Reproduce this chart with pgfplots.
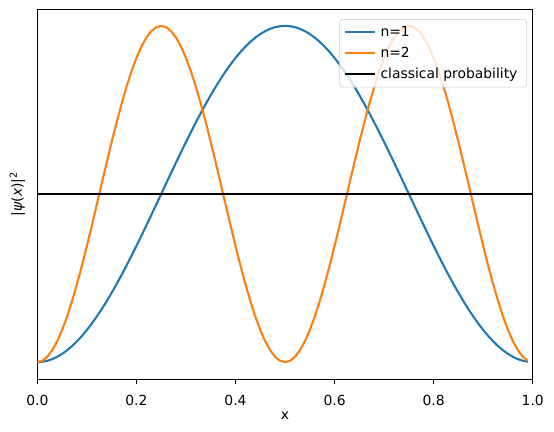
\documentclass[border=0pt]{standalone}
\usepackage{fontspec}
\setmainfont{DejaVu Sans}
\usepackage{pgfplots}
\usepackage{pgfplotstable}
\pgfplotsset{compat=1.18}
\definecolor{tabblue}{HTML}{1F77B4}
\definecolor{taborange}{HTML}{FF7F0E}
\pgfplotstableread{
x y1 y2
0.00 0 0
0.01 0.00197 0.00789
0.02 0.00789 0.03142
0.03 0.01771 0.07022
0.04 0.03142 0.12369
0.05 0.04894 0.19098
0.06 0.07022 0.27103
0.07 0.09517 0.36258
0.08 0.12369 0.46417
0.09 0.15567 0.57422
0.10 0.19098 0.69098
0.11 0.22949 0.81262
0.12 0.27103 0.93721
0.13 0.31545 1.06279
0.14 0.36258 1.18738
0.15 0.41221 1.30902
0.16 0.46417 1.42578
0.17 0.51825 1.53583
0.18 0.57422 1.63742
0.19 0.63188 1.72897
0.20 0.69098 1.80902
0.21 0.75131 1.87631
0.22 0.81262 1.92978
0.23 0.87467 1.96858
0.24 0.93721 1.99211
0.25 1 2
0.26 1.06279 1.99211
0.27 1.12533 1.96858
0.28 1.18738 1.92978
0.29 1.24869 1.87631
0.30 1.30902 1.80902
0.31 1.36812 1.72897
0.32 1.42578 1.63742
0.33 1.48175 1.53583
0.34 1.53583 1.42578
0.35 1.58779 1.30902
0.36 1.63742 1.18738
0.37 1.68455 1.06279
0.38 1.72897 0.93721
0.39 1.77051 0.81262
0.40 1.80902 0.69098
0.41 1.84433 0.57422
0.42 1.87631 0.46417
0.43 1.90483 0.36258
0.44 1.92978 0.27103
0.45 1.95106 0.19098
0.46 1.96858 0.12369
0.47 1.98229 0.07022
0.48 1.99211 0.03142
0.49 1.99803 0.00789
0.50 2 0
0.51 1.99803 0.00789
0.52 1.99211 0.03142
0.53 1.98229 0.07022
0.54 1.96858 0.12369
0.55 1.95106 0.19098
0.56 1.92978 0.27103
0.57 1.90483 0.36258
0.58 1.87631 0.46417
0.59 1.84433 0.57422
0.60 1.80902 0.69098
0.61 1.77051 0.81262
0.62 1.72897 0.93721
0.63 1.68455 1.06279
0.64 1.63742 1.18738
0.65 1.58779 1.30902
0.66 1.53583 1.42578
0.67 1.48175 1.53583
0.68 1.42578 1.63742
0.69 1.36812 1.72897
0.70 1.30902 1.80902
0.71 1.24869 1.87631
0.72 1.18738 1.92978
0.73 1.12533 1.96858
0.74 1.06279 1.99211
0.75 1 2
0.76 0.93721 1.99211
0.77 0.87467 1.96858
0.78 0.81262 1.92978
0.79 0.75131 1.87631
0.80 0.69098 1.80902
0.81 0.63188 1.72897
0.82 0.57422 1.63742
0.83 0.51825 1.53583
0.84 0.46417 1.42578
0.85 0.41221 1.30902
0.86 0.36258 1.18738
0.87 0.31545 1.06279
0.88 0.27103 0.93721
0.89 0.22949 0.81262
0.90 0.19098 0.69098
0.91 0.15567 0.57422
0.92 0.12369 0.46417
0.93 0.09517 0.36258
0.94 0.07022 0.27103
0.95 0.04894 0.19098
0.96 0.03142 0.12369
0.97 0.01771 0.07022
0.98 0.00789 0.03142
0.99 0.00197 0.00789
}\datatable
\begin{document}
\begin{tikzpicture}
\begin{axis}[
  at={(0,0)}, anchor=south west,
  scale only axis,
  width=356.8pt, height=266.4pt,
  xmin=0, xmax=1, ymin=-0.1, ymax=2.1,
  xtick={0,0.2,0.4,0.6,0.8,1.0},
  xticklabels={0.0,0.2,0.4,0.6,0.8,1.0},
  ytick=\empty,
  tick align=outside,
  xtick pos=bottom,
  major tick length=3.5pt,
  tick style={black, line width=0.6pt},
  axis line style={line width=0.6pt},
  font=\fontsize{10}{12}\selectfont,
  /pgf/number format/assume math mode=true,
  xticklabel style={anchor=north, inner sep=0pt, yshift=-7.9pt},
  xlabel={x},
  xlabel style={at={(axis description cs:0.5,-0.1)}, anchor=center, inner sep=0pt},
  ylabel={|{\itshape ψ}({\itshape x})|\textsuperscript{2}},
  ylabel style={at={(axis description cs:-0.024,0.5)}, anchor=south, inner sep=0pt},
  legend cell align=left,
  legend style={at={(axis description cs:0.988,0.973)}, anchor=north east,
    draw=black!20, rounded corners=2pt, fill=white, fill opacity=0.8, text opacity=1,
    font=\fontsize{10}{12}\selectfont, row sep=2pt, inner sep=3pt,
    nodes={inner xsep=3.6pt, inner ysep=2pt, text depth=0.15em}},
  legend image code/.code={\draw[#1, line width=1.5pt] (0cm,0cm) -- (0.75cm,0cm);},
]
\addplot[tabblue, line width=1.5pt] table[x=x, y=y1] {\datatable};
\addlegendentry{n=1}
\addplot[taborange, line width=1.5pt] table[x=x, y=y2] {\datatable};
\addlegendentry{n=2}
\addplot[black, line width=1.5pt] coordinates {(0,1) (1,1)};
\addlegendentry{classical probability}
\end{axis}
\pgfresetboundingbox
\path[use as bounding box] (-26.9pt,-38.2pt) rectangle (372.1pt,272.9pt);
\end{tikzpicture}
\end{document}
